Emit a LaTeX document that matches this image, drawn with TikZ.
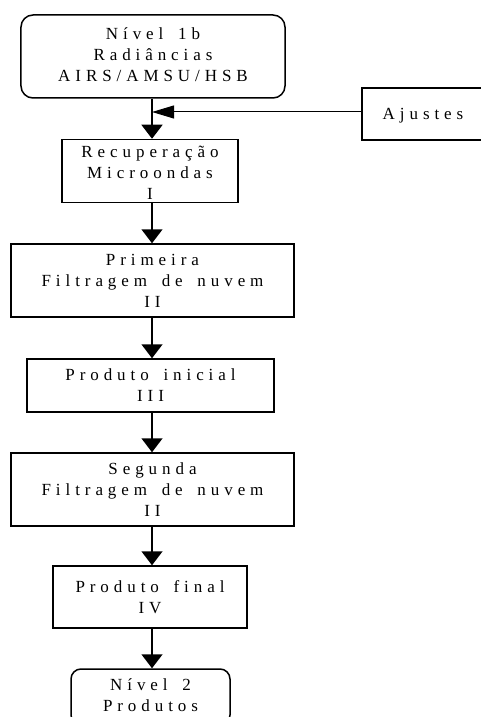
\documentclass[tikz,border=0pt]{standalone}
\usepackage{fontspec}
\setmainfont{Liberation Serif}[LetterSpace=29,WordSpace=1.6]
\usetikzlibrary{arrows.meta}
\newcommand{\boxtext}[2]{\raisebox{-#1}[\height][\depth]{\begin{tabular}{@{}c@{}}#2\end{tabular}}}
\begin{document}
\begin{tikzpicture}[x=1bp,y=-1bp,
  box/.style={draw,line width=1.5bp,inner sep=0pt,
    font=\fontsize{17bp}{21bp}\selectfont},
  rbox/.style={box,rounded corners=12bp},
  arr/.style={line width=1.6bp,-{Triangle[length=14bp,width=21bp]}},
  harr/.style={line width=1bp,-{Triangle[length=22bp,width=13bp]}}]
\useasboundingbox (0,0) rectangle (481,717);
\clip (0,0) rectangle (481,717);
\coordinate (axis) at (152,0);
\node[rbox,minimum width=264bp,minimum height=83bp] (n1) at (153,56.5)
  {\boxtext{0bp}{Nível 1b\\Radiâncias\\AIRS/AMSU/HSB}};
\node[box,minimum width=122bp,minimum height=52bp] (aj) at (423,114)
  {\boxtext{1.5bp}{Ajustes}};
\node[box,minimum width=176bp,minimum height=62bp] (rec) at (150,171)
  {\boxtext{3.5bp}{Recuperação\\Microondas\\I}};
\node[box,minimum width=283bp,minimum height=73bp] (f1) at (152.5,280.5)
  {\boxtext{2bp}{Primeira\\Filtragem de nuvem\\II}};
\node[box,minimum width=247bp,minimum height=53bp] (pi) at (150.5,385.5)
  {\boxtext{1.5bp}{Produto inicial\\III}};
\node[box,minimum width=283bp,minimum height=73bp] (f2) at (152.5,489.5)
  {\boxtext{2bp}{Segunda\\Filtragem de nuvem\\II}};
\node[box,minimum width=194bp,minimum height=62bp] (pf) at (150,597)
  {\boxtext{2bp}{Produto final\\IV}};
\node[box,rounded corners=10bp,minimum width=159bp,minimum height=56bp] (n2) at (150.5,697)
  {\boxtext{0bp}{Nível 2\\Produtos}};
\draw[arr] (n1.south -| axis) -- (rec.north -| axis);
\draw[harr] ([yshift=2bp]aj.west) -- ([yshift=2bp]aj.west -| axis);
\draw[arr] (rec.south -| axis) -- (f1.north -| axis);
\draw[arr] (f1.south -| axis) -- (pi.north -| axis);
\draw[arr] (pi.south -| axis) -- (f2.north -| axis);
\draw[arr] (f2.south -| axis) -- (pf.north -| axis);
\draw[arr] (pf.south -| axis) -- (n2.north -| axis);
\end{tikzpicture}
\end{document}
